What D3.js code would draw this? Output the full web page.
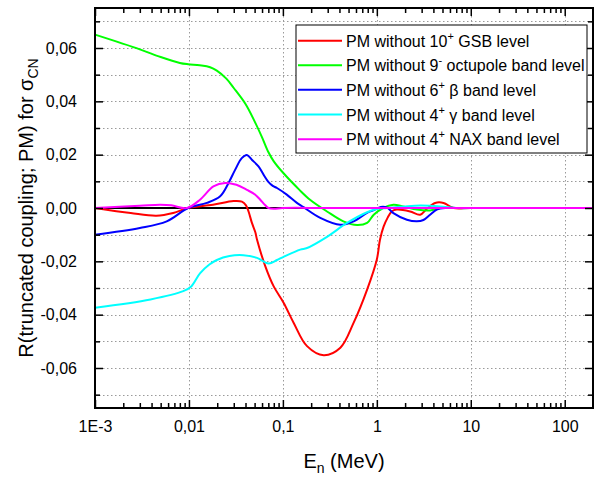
<!DOCTYPE html>
<html><head><meta charset="utf-8">
<script src="https://cdn.jsdelivr.net/npm/d3@7"></script>
<style>body{margin:0;background:#fff}</style>
</head><body><svg id="c" width="596" height="480"></svg>
<script>
// ---- data ----
const legendPre  = ["PM without 10", "PM without 9", "PM without 6", "PM without 4", "PM without 4"];
const legendSup  = ["+", "-", "+", "+", "+"];
const legendPost = [" GSB level", " octupole band level", " \u03B2 band level", " \u03B3 band level", " NAX band level"];
const seriesColors = ["#ff0000", "#00ff00", "#0000ff", "#00ffff", "#ff00ff"];

const gsbE = [0.001,0.0024,0.0045,0.0068,0.0098,0.018,0.0298,0.0366,0.0405,0.0431,0.0468,0.0508,0.053,0.0649,0.0796,0.1017,0.130,0.1807,0.2716,0.409,0.567,0.788,1.0,1.08,1.18,1.3,1.44,1.63,2.26,2.89,3.41,4.18,5.13,6.55,10,30,200];
const gsbV = [0,-0.0019,-0.0029,-0.0019,0,0.0012,0.0026,0.0024,0.001,-0.0013,-0.0056,-0.009,-0.0118,-0.0218,-0.0293,-0.0355,-0.043,-0.0518,-0.0552,-0.0524,-0.043,-0.0306,-0.0193,-0.0119,-0.007,-0.0037,-0.0013,-0.0006,-0.0013,-0.0025,-0.0003,0.0019,0.0019,0,0,0,0];

const octE = [0.001,0.003,0.005,0.008,0.0098,0.013,0.0168,0.0198,0.025,0.03,0.04,0.05,0.06,0.07,0.08,0.1,0.15,0.196,0.295,0.44,0.616,0.788,0.927,1.17,1.5,1.9,2.67,3.69,4.73,7,20,200];
const octV = [0.065,0.0595,0.0566,0.0544,0.0539,0.0535,0.0528,0.0515,0.0485,0.0450,0.039,0.0325,0.0265,0.021,0.0175,0.0133,0.0068,0.003,-0.0013,-0.005,-0.0064,-0.0056,-0.0025,0,0.0012,0.0006,-0.0006,-0.0009,0,0,0,0];

const betaE = [0.001,0.003,0.0058,0.0098,0.0155,0.0215,0.0265,0.031,0.0365,0.0414,0.047,0.055,0.063,0.070,0.078,0.0865,0.11,0.141,0.166,0.25,0.409,0.567,0.788,0.927,1.1,1.28,1.5,2.09,2.67,3.13,3.69,4.35,5.57,8,20,200];
const betaV = [-0.010,-0.0075,-0.005,0,0.0019,0.0044,0.0095,0.0143,0.0187,0.0199,0.018,0.0156,0.0122,0.0098,0.0083,0.0075,0.005,0.0019,0.0003,-0.0037,-0.0063,-0.005,-0.0018,-0.0008,0.0004,0.0002,-0.0019,-0.0044,-0.005,-0.0045,-0.0025,-0.0006,0,0,0,0];

const gammaE = [0.001,0.0039,0.0087,0.0105,0.0131,0.0165,0.0198,0.027,0.038,0.053,0.0704,0.0865,0.1017,0.153,0.1807,0.295,0.482,0.788,1.0,1.28,2.0,2.9,4.7,7,12,30,200];
const gammaV = [-0.0374,-0.0343,-0.0312,-0.0295,-0.0245,-0.0212,-0.0195,-0.0180,-0.0177,-0.0187,-0.0208,-0.0195,-0.0183,-0.0156,-0.015,-0.0108,-0.0056,-0.0016,-0.0004,0,0.0006,0.0009,0.0006,0,0,0,0];

const naxE = [0.001,0.003,0.0049,0.0065,0.0095,0.0131,0.0182,0.0243,0.032,0.0414,0.0508,0.0574,0.065,0.0704,0.08,0.1,0.3,3,200];
const naxV = [0,0.0008,0.0012,0.0010,0,0.0031,0.0081,0.0094,0.0087,0.0068,0.005,0.0031,0.001,0,-0.0003,0,0,0,0];

const xTickValues = [0.001, 0.01, 0.1, 1, 10, 100];
const xTickLabels = ["1E-3", "0,01", "0,1", "1", "10", "100"];
const yTickValues = [-0.06, -0.04, -0.02, 0, 0.02, 0.04, 0.06];
const yTickLabels = ["-0,06", "-0,04", "-0,02", "0,00", "0,02", "0,04", "0,06"];
const yMinorValues = [-0.07, -0.05, -0.03, -0.01, 0.01, 0.03, 0.05, 0.07];

// ---- layout ----
const L = 95, R = 593, T = 8, B = 408;
const FONT = "Arial, 'Liberation Sans', sans-serif";
const svg = d3.select("#c");
const x = d3.scaleLog().domain([0.001, 200]).range([L, R]);
const y = d3.scaleLinear().domain([-0.075, 0.075]).range([B, T]);

const xMinor = [];
[0.001, 0.01, 0.1, 1, 10, 100].forEach(d => { for (let k = 2; k <= 9; k++) { const v = d * k; if (v < 200) xMinor.push(v); } });

// grid
const grid = svg.append("g").attr("stroke", "#9a9a9a").attr("stroke-width", 1).attr("stroke-dasharray", "1.5,2.5");
yTickValues.concat(yMinorValues).filter(v => v !== 0).forEach(v => {
  grid.append("line").attr("x1", L).attr("x2", R).attr("y1", Math.round(y(v)) + 0.5).attr("y2", Math.round(y(v)) + 0.5);
});
xTickValues.filter(v => v > 0.001).forEach(v => {
  grid.append("line").attr("y1", T).attr("y2", B).attr("x1", Math.round(x(v)) + 0.5).attr("x2", Math.round(x(v)) + 0.5);
});

// zero line
svg.append("line").attr("x1", L).attr("x2", R).attr("y1", y(0)).attr("y2", y(0)).attr("stroke", "#000").attr("stroke-width", 2);

// curves
const allE = [gsbE, octE, betaE, gammaE, naxE];
const allV = [gsbV, octV, betaV, gammaV, naxV];
const line = d3.line().x(d => x(d[0])).y(d => y(d[1])).curve(d3.curveCatmullRom.alpha(0.5));
allE.forEach((es, i) => {
  const pts = es.map((e, j) => [e, allV[i][j]]);
  svg.append("path").attr("d", line(pts)).attr("fill", "none").attr("stroke", seriesColors[i]).attr("stroke-width", 2).attr("stroke-linejoin", "round");
});

// axes (ticks inward)
function styleAxis(g) { g.select(".domain").remove(); g.selectAll("line").attr("stroke", "#000").attr("stroke-width", 1.5); g.selectAll("text").attr("font-family", FONT).attr("font-size", 16).attr("fill", "#000"); }
svg.append("g").attr("transform", `translate(0,${B})`)
  .call(d3.axisBottom(x).tickValues(xTickValues).tickSize(-8).tickPadding(12.5).tickFormat((d, i) => xTickLabels[i])).call(styleAxis);
svg.append("g").attr("transform", `translate(0,${B})`)
  .call(d3.axisBottom(x).tickValues(xMinor).tickSize(-5).tickFormat("")).call(styleAxis);
svg.append("g").attr("transform", `translate(0,${T})`)
  .call(d3.axisTop(x).tickValues(xTickValues).tickSize(-8).tickFormat("")).call(styleAxis);
svg.append("g").attr("transform", `translate(0,${T})`)
  .call(d3.axisTop(x).tickValues(xMinor).tickSize(-5).tickFormat("")).call(styleAxis);
svg.append("g").attr("transform", `translate(${L},0)`)
  .call(d3.axisLeft(y).tickValues(yTickValues).tickSize(-8).tickPadding(18).tickFormat((d, i) => yTickLabels[i])).call(styleAxis);
svg.append("g").attr("transform", `translate(${L},0)`)
  .call(d3.axisLeft(y).tickValues(yMinorValues).tickSize(-5).tickFormat("")).call(styleAxis);
svg.append("g").attr("transform", `translate(${R},0)`)
  .call(d3.axisRight(y).tickValues(yTickValues).tickSize(-8).tickFormat("")).call(styleAxis);
svg.append("g").attr("transform", `translate(${R},0)`)
  .call(d3.axisRight(y).tickValues(yMinorValues).tickSize(-5).tickFormat("")).call(styleAxis);

// frame
svg.append("rect").attr("x", L).attr("y", T).attr("width", R - L).attr("height", B - T)
  .attr("fill", "none").attr("stroke", "#000").attr("stroke-width", 2);

// axis titles
const xt = svg.append("text").attr("x", 344).attr("y", 468).attr("text-anchor", "middle")
  .attr("font-family", FONT).attr("font-size", 20).attr("fill", "#000");
xt.append("tspan").text("E");
xt.append("tspan").attr("font-size", 14).attr("dy", 5).text("n");
xt.append("tspan").attr("dy", -5).text(" (MeV)");

const yt = svg.append("text").attr("transform", "translate(33,208) rotate(-90)").attr("text-anchor", "middle")
  .attr("font-family", FONT).attr("font-size", 20).attr("fill", "#000");
yt.append("tspan").text("R(truncated coupling; PM) for \u03C3");
yt.append("tspan").attr("font-size", 14).attr("dy", 5).text("CN");

// legend
const lg = svg.append("g");
lg.append("rect").attr("x", 296).attr("y", 25).attr("width", 291).attr("height", 128)
  .attr("fill", "#fff").attr("stroke", "#000").attr("stroke-width", 1);
const rowY = [40.7, 65.2, 89.8, 114.5, 139.2];
legendPre.forEach((p, i) => {
  lg.append("line").attr("x1", 298).attr("x2", 342).attr("y1", rowY[i]).attr("y2", rowY[i])
    .attr("stroke", seriesColors[i]).attr("stroke-width", 2);
  const t = lg.append("text").attr("x", 346).attr("y", rowY[i] + 6)
    .attr("font-family", FONT).attr("font-size", 16).attr("fill", "#000");
  t.append("tspan").text(p);
  t.append("tspan").attr("font-size", 11).attr("dy", -7).text(legendSup[i]);
  t.append("tspan").attr("dy", 7).text(legendPost[i]);
});
</script></body></html>
